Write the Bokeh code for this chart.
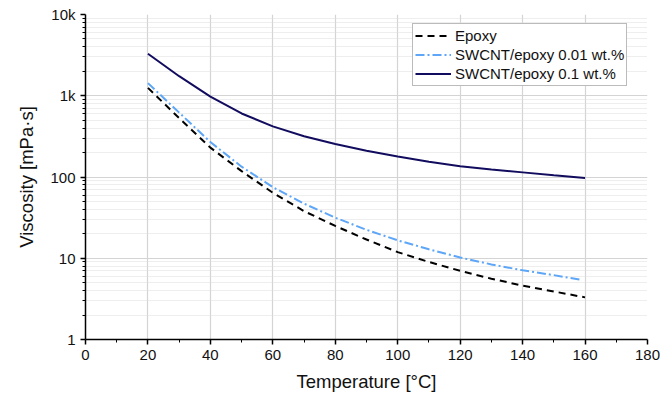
from bokeh.plotting import figure
from bokeh.models import FixedTicker, Range1d, Legend, LegendItem
from bokeh.embed import file_html
from bokeh.resources import INLINE

temp = [20, 30, 40, 50, 60, 70, 80, 90, 100, 110, 120, 130, 140, 150, 160]
epoxy = [1250, 530, 230, 118, 64, 38, 25, 17, 11.9, 9.0, 7.0, 5.6, 4.6, 3.9, 3.3]
temp_b = [20, 30, 40, 50, 60, 70, 80, 90, 100, 110, 120, 130, 140, 150, 159]
swcnt_001 = [1430, 620, 269, 134, 75, 47, 31.6, 22.4, 16.6, 12.9, 10.2, 8.4, 7.1, 6.2, 5.4]
swcnt_01 = [3290, 1740, 975, 605, 420, 318, 255, 210, 179, 154, 136, 124, 114, 105, 97]

x_ticks = [0, 20, 40, 60, 80, 100, 120, 140, 160, 180]
x_minor = [10, 30, 50, 70, 90, 110, 130, 150, 170]
y_ticks = [1, 10, 100, 1000, 10000]
y_labels = ["1", "10", "100", "1k", "10k"]
series_names = ["Epoxy", "SWCNT/epoxy 0.01 wt.%", "SWCNT/epoxy 0.1 wt.%"]

FONT = "Liberation Sans"

p = figure(width=661, height=399, y_axis_type="log",
           x_range=Range1d(0, 180), y_range=Range1d(1, 10000),
           output_backend="svg", toolbar_location=None,
           min_border_left=85, min_border_right=14, min_border_top=14, min_border_bottom=60)
p.outline_line_color = None
p.background_fill_color = "white"

y_minor = [m * d for d in [1, 10, 100, 1000] for m in range(2, 10)]

p.xaxis.ticker = FixedTicker(ticks=x_ticks, minor_ticks=x_minor)
p.yaxis.ticker = FixedTicker(ticks=y_ticks, minor_ticks=y_minor)
p.yaxis.major_label_overrides = {t: l for t, l in zip(y_ticks, y_labels)}

for ax in (p.xaxis, p.yaxis):
    ax.axis_line_color = "black"
    ax.axis_line_width = 1.5
    ax.major_tick_line_color = "black"
    ax.minor_tick_line_color = "black"
    ax.major_tick_line_width = 1.5
    ax.major_tick_out = 5
    ax.major_tick_in = 0
    ax.minor_tick_out = 3
    ax.minor_tick_in = 0
    ax.major_label_text_font = FONT
    ax.major_label_text_font_size = "15px"
    ax.major_label_text_color = "#111111"
    ax.axis_label_text_font = FONT
    ax.axis_label_text_font_size = "18.5px"
    ax.axis_label_text_font_style = "normal"
    ax.axis_label_text_color = "#111111"

p.xaxis.axis_label = "Temperature [°C]"
p.yaxis.axis_label = "Viscosity [mPa·s]"
p.xaxis.axis_label_standoff = 8
p.yaxis.axis_label_standoff = 10

p.xgrid.grid_line_color = "#d4d4d4"
p.ygrid.grid_line_color = "#d4d4d4"
p.xgrid.grid_line_width = 1.2
p.ygrid.grid_line_width = 1.2
p.ygrid.minor_grid_line_color = "#dcdcdc"
p.ygrid.minor_grid_line_dash = "1 1"
p.ygrid.minor_grid_line_width = 1

r1 = p.line(temp, epoxy, line_color="black", line_width=2, line_dash="7 5")
r2 = p.line(temp_b, swcnt_001, line_color="#5ea6f7", line_width=2, line_dash="9 3 2 3")
r3 = p.line(temp, swcnt_01, line_color="#120c5e", line_width=2)

legend = Legend(items=[LegendItem(label=series_names[0], renderers=[r1]),
                       LegendItem(label=series_names[1], renderers=[r2]),
                       LegendItem(label=series_names[2], renderers=[r3])],
                location=(327, 253), orientation="vertical")
legend.label_text_font = FONT
legend.label_text_font_size = "15px"
legend.label_text_color = "#111111"
legend.border_line_color = "#777777"
legend.border_line_width = 1
legend.background_fill_alpha = 1
legend.padding = 2
legend.spacing = 0
legend.margin = 0
legend.glyph_width = 36
legend.glyph_height = 19
legend.label_height = 19
legend.label_standoff = 4
p.add_layout(legend, "center")

open("out.html", "w").write(file_html(p, INLINE))
